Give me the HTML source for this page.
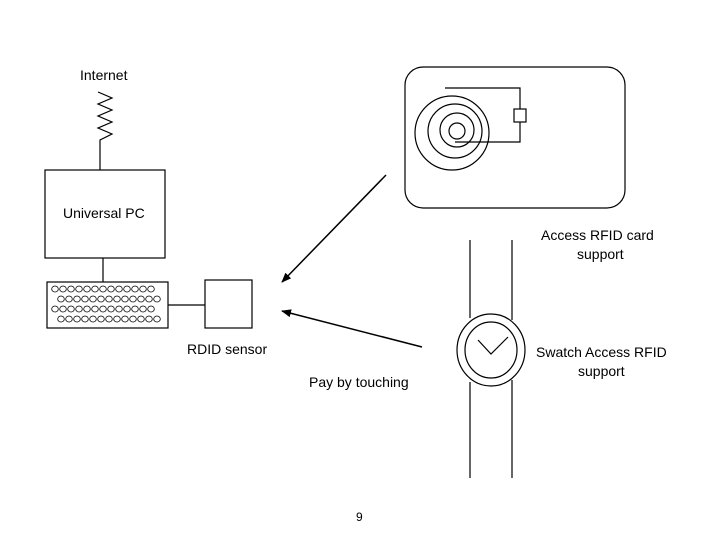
<!DOCTYPE html>
<html><head><meta charset="utf-8"><style>
body{margin:0;background:#fff;width:720px;height:540px;overflow:hidden}
svg text{font-family:"Liberation Sans",sans-serif;font-size:14px;fill:#000}
</style></head><body>
<svg width="720" height="540" viewBox="0 0 720 540" xmlns="http://www.w3.org/2000/svg">
<defs><marker id="a" markerWidth="10" markerHeight="8" refX="9" refY="4" orient="auto" markerUnits="userSpaceOnUse"><path d="M0,0 L10,4 L0,8z" fill="#000"/></marker></defs>
<g fill="none" stroke="#000" stroke-width="1.2">
<text x="80" y="80" stroke="none">Internet</text>
<polyline points="98,92 112,98 98,104 112,110 98,116 112,122 98,128 112,134 100,140 100,170"/>
<rect x="45" y="170" width="120" height="88"/>
<text x="63" y="218" stroke="none">Universal PC</text>
<line x1="103" y1="258" x2="103" y2="282"/>
<rect x="47" y="282" width="121" height="46"/>
<g stroke-width="0.8" id="kb"></g>
<line x1="168" y1="305" x2="205" y2="305"/>
<rect x="205" y="280" width="47" height="48"/>
<text x="187" y="354" stroke="none">RDID sensor</text>
<rect x="405" y="67" width="220" height="141" rx="18"/>
<circle cx="452" cy="133" r="37"/>
<circle cx="455" cy="131" r="27"/>
<circle cx="457" cy="130" r="17"/>
<circle cx="457" cy="131" r="8"/>
<polyline points="445,88 520,88 520,142 455,142"/>
<rect x="514" y="109" width="12" height="13" fill="#fff"/>
<text x="541" y="240" stroke="none">Access RFID card</text>
<text x="577" y="259" stroke="none">support</text>
<line x1="470" y1="240" x2="470" y2="318"/><line x1="512" y1="240" x2="512" y2="320"/>
<line x1="470" y1="382" x2="470" y2="478"/><line x1="512" y1="380" x2="512" y2="478"/>
<ellipse cx="491" cy="350" rx="34" ry="36"/>
<ellipse cx="491" cy="350" rx="26" ry="28"/>
<polyline points="478,340 491,354 508,337"/>
<text x="536" y="357" stroke="none">Swatch Access RFID</text>
<text x="578" y="376" stroke="none">support</text>
<line x1="386" y1="175" x2="282" y2="282" marker-end="url(#a)" stroke-width="1.5"/>
<line x1="422" y1="347" x2="282" y2="311" marker-end="url(#a)" stroke-width="1.5"/>
<text x="309" y="387" stroke="none">Pay by touching</text>
<text x="356" y="521" stroke="none" style="font-size:12px">9</text>
<g stroke-width="0.8">
<script>
</script>
</g>
</g>
<g fill="none" stroke="#000" stroke-width="0.8">
<ellipse cx="55" cy="289" rx="3.3" ry="3"/><ellipse cx="63" cy="289" rx="3.3" ry="3"/><ellipse cx="71" cy="289" rx="3.3" ry="3"/><ellipse cx="79" cy="289" rx="3.3" ry="3"/><ellipse cx="87" cy="289" rx="3.3" ry="3"/><ellipse cx="95" cy="289" rx="3.3" ry="3"/><ellipse cx="103" cy="289" rx="3.3" ry="3"/><ellipse cx="111" cy="289" rx="3.3" ry="3"/><ellipse cx="119" cy="289" rx="3.3" ry="3"/><ellipse cx="127" cy="289" rx="3.3" ry="3"/><ellipse cx="135" cy="289" rx="3.3" ry="3"/><ellipse cx="143" cy="289" rx="3.3" ry="3"/><ellipse cx="151" cy="289" rx="3.3" ry="3"/>
<ellipse cx="61" cy="299" rx="3.3" ry="3"/><ellipse cx="69" cy="299" rx="3.3" ry="3"/><ellipse cx="77" cy="299" rx="3.3" ry="3"/><ellipse cx="85" cy="299" rx="3.3" ry="3"/><ellipse cx="93" cy="299" rx="3.3" ry="3"/><ellipse cx="101" cy="299" rx="3.3" ry="3"/><ellipse cx="109" cy="299" rx="3.3" ry="3"/><ellipse cx="117" cy="299" rx="3.3" ry="3"/><ellipse cx="125" cy="299" rx="3.3" ry="3"/><ellipse cx="133" cy="299" rx="3.3" ry="3"/><ellipse cx="141" cy="299" rx="3.3" ry="3"/><ellipse cx="149" cy="299" rx="3.3" ry="3"/><ellipse cx="157" cy="299" rx="3.3" ry="3"/>
<ellipse cx="55" cy="309" rx="3.3" ry="3"/><ellipse cx="63" cy="309" rx="3.3" ry="3"/><ellipse cx="71" cy="309" rx="3.3" ry="3"/><ellipse cx="79" cy="309" rx="3.3" ry="3"/><ellipse cx="87" cy="309" rx="3.3" ry="3"/><ellipse cx="95" cy="309" rx="3.3" ry="3"/><ellipse cx="103" cy="309" rx="3.3" ry="3"/><ellipse cx="111" cy="309" rx="3.3" ry="3"/><ellipse cx="119" cy="309" rx="3.3" ry="3"/><ellipse cx="127" cy="309" rx="3.3" ry="3"/><ellipse cx="135" cy="309" rx="3.3" ry="3"/><ellipse cx="143" cy="309" rx="3.3" ry="3"/><ellipse cx="151" cy="309" rx="3.3" ry="3"/>
<ellipse cx="61" cy="319" rx="3.3" ry="3"/><ellipse cx="69" cy="319" rx="3.3" ry="3"/><ellipse cx="77" cy="319" rx="3.3" ry="3"/><ellipse cx="85" cy="319" rx="3.3" ry="3"/><ellipse cx="93" cy="319" rx="3.3" ry="3"/><ellipse cx="101" cy="319" rx="3.3" ry="3"/><ellipse cx="109" cy="319" rx="3.3" ry="3"/><ellipse cx="117" cy="319" rx="3.3" ry="3"/><ellipse cx="125" cy="319" rx="3.3" ry="3"/><ellipse cx="133" cy="319" rx="3.3" ry="3"/><ellipse cx="141" cy="319" rx="3.3" ry="3"/><ellipse cx="149" cy="319" rx="3.3" ry="3"/><ellipse cx="157" cy="319" rx="3.3" ry="3"/>
</g>
</svg>
</body></html>
